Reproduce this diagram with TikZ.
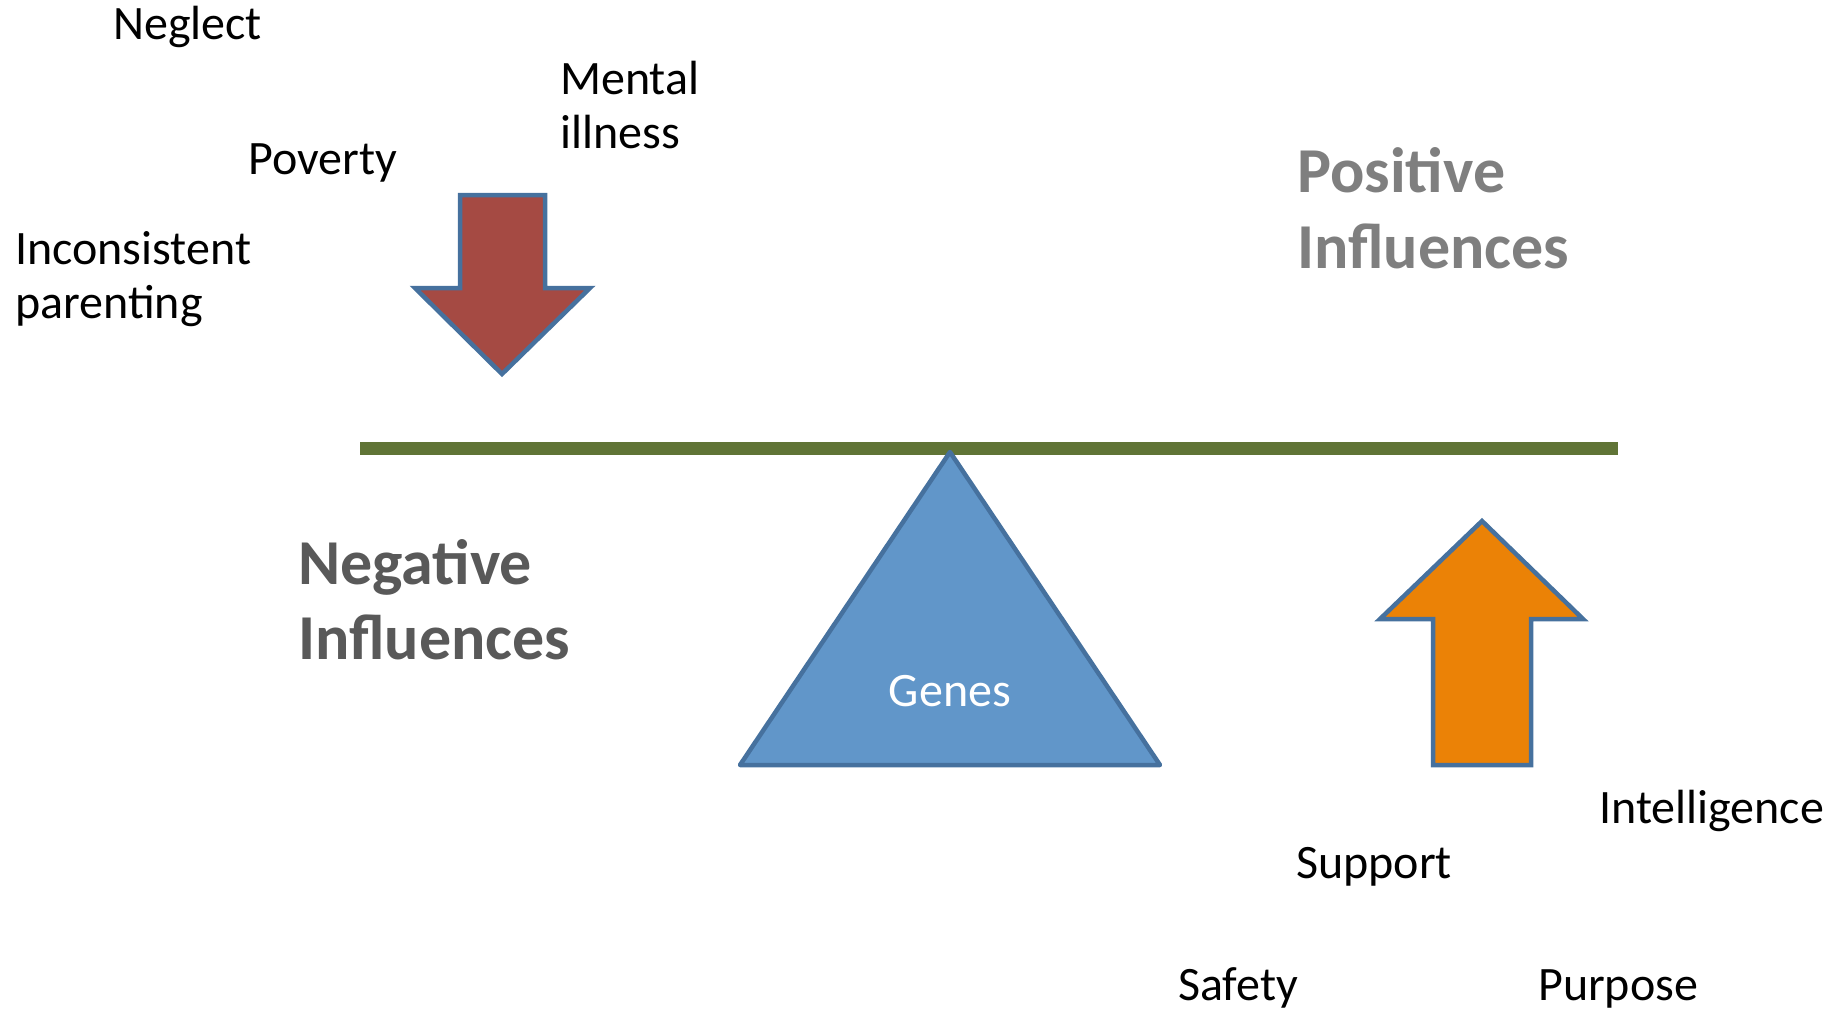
\documentclass[tikz,border=0pt]{standalone}
\usepackage{fontspec}
\setmainfont{Carlito}
\definecolor{beamgreen}{RGB}{96,116,54}
\definecolor{fulcrumfill}{RGB}{97,150,201}
\definecolor{outlineblue}{RGB}{70,113,158}
\definecolor{negred}{RGB}{165,74,67}
\definecolor{posorange}{RGB}{235,130,6}
\definecolor{titlegreyA}{RGB}{127,127,127}
\definecolor{titlegreyB}{RGB}{89,89,89}
\begin{document}
\begin{tikzpicture}[x=1pt,y=-1pt,
  factor/.style={anchor=base west,inner sep=0pt,font=\fontsize{48}{54}\selectfont,text=black},
  heading/.style={anchor=base west,inner sep=0pt,font=\fontsize{64}{76}\selectfont\bfseries},
  shapeline/.style={draw=outlineblue,line width=4.5pt,line join=miter}]
\useasboundingbox (0,0) rectangle (1844,1010);

% balance beam
\draw[beamgreen,line width=13pt] (360,448) -- (1618,448);

% fulcrum
\draw[shapeline,fill=fulcrumfill,line join=round] (950,452) -- (1160,765) -- (740,765) -- cycle;
\node[anchor=base,inner sep=0pt,font=\fontsize{48}{54}\selectfont,text=white] (genes) at (950,706) {Genes};

% downward (negative) arrow
\draw[shapeline,fill=negred] (460,195) -- (545,195) -- (545,288) -- (590,288) -- (502,374)
  -- (415,288) -- (460,288) -- cycle;

% upward (positive) arrow
\draw[shapeline,fill=posorange] (1433,765) -- (1531,765) -- (1531,619) -- (1583,619) -- (1482,521)
  -- (1380,619) -- (1433,619) -- cycle;

% headings
\node[heading,text=titlegreyA] (pos1) at (1297,192) {Positive};
\node[heading,text=titlegreyA] (pos2) at (1297,268) {Influences};
\node[heading,text=titlegreyB] (neg1) at (298,584) {Negative};
\node[heading,text=titlegreyB] (neg2) at (298,659) {Influences};

% negative factors
\node[factor] (neglect) at (113,39) {Neglect};
\node[factor] (mental1) at (560,94) {Mental};
\node[factor] (mental2) at (560,148) {illness};
\node[factor] (poverty) at (248,174) {Poverty};
\node[factor] (incons1) at (15,264) {Inconsistent};
\node[factor] (incons2) at (15,318) {parenting};

% positive factors
\node[factor] (intel) at (1599,823) {Intelligence};
\node[factor] (support) at (1296,878) {Support};
\node[factor] (safety) at (1178,1000) {Safety};
\node[factor] (purpose) at (1538,1000) {Purpose};
\end{tikzpicture}
\end{document}
